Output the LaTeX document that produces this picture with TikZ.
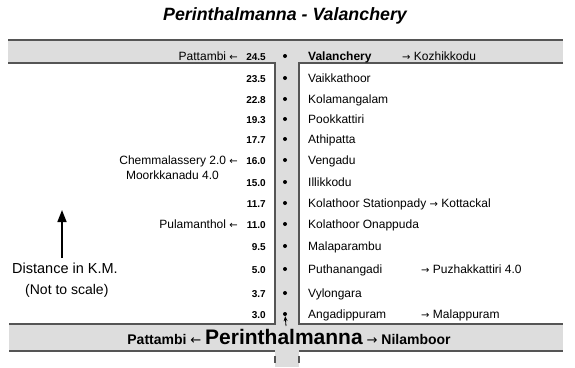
\documentclass[tikz,border=0pt]{standalone}
\usepackage{fontspec}
\setmainfont{Liberation Sans}
\newfontfamily\arrowfont{DejaVu Sans}
\usetikzlibrary{arrows.meta}
\definecolor{roadgray}{RGB}{221,221,221}
\definecolor{roadline}{RGB}{85,85,85}
\newcommand{\rar}[1][10]{{\arrowfont\mdseries\fontsize{#1}{#1}\selectfont →}}
\newcommand{\lar}[1][10]{{\arrowfont\mdseries\fontsize{#1}{#1}\selectfont ←}}
\tikzset{
  km/.style={anchor=base east, inner sep=0pt, font=\fontsize{10}{12}\selectfont\bfseries},
  stoptext/.style={anchor=base west, inner sep=0pt, font=\fontsize{12}{14}\selectfont},
  sidetext/.style={anchor=base east, inner sep=0pt, font=\fontsize{12}{14}\selectfont},
  halt/.style={circle, fill, inner sep=0pt, minimum size=4pt},
  kerb/.style={roadline, line width=1.4pt},
}
\begin{document}
\begin{tikzpicture}[x=1pt, y=-1pt]
        \useasboundingbox (0,0) rectangle (575,367);

        % --- Title ---
        \node[anchor=base, inner sep=0pt, font=\fontsize{17.8}{20}\selectfont\bfseries\itshape] (title) at (285,20) {Perinthalmanna - Valanchery};
        % ---

        % --- Draw road cross ---
        \fill[roadgray] (8,40) rectangle (563,63);
        \fill[roadgray] (9,324) rectangle (563,351);
        \fill[roadgray] (275,40) rectangle (299,367);
        \draw[kerb] (8,40) -- (563,40);
        \draw[kerb] (8,63) -- (275,63) -- (275,324) -- (9,324);
        \draw[kerb] (563,63) -- (299,63) -- (299,324) -- (563,324);
        \draw[kerb] (9,351) -- (275,351) (299,351) -- (563,351);
        \draw[kerb] (275,356) -- (275,363) (299,356) -- (299,363);
        % ---

        % --- Stops: distance, halt, name ---
        \node[km] (k1) at (266,60) {24.5};  \node[halt] (d1) at (285,56) {};  \node[stoptext, font=\fontsize{12}{14}\selectfont\bfseries] (s1) at (308,60) {Valanchery};
        \node[km] (k2) at (266,82) {23.5};  \node[halt] (d2) at (285,78) {};  \node[stoptext] (s2) at (308,82) {Vaikkathoor};
        \node[km] (k3) at (266,103) {22.8}; \node[halt] (d3) at (285,99) {};  \node[stoptext] (s3) at (308,103) {Kolamangalam};
        \node[km] (k4) at (266,123) {19.3}; \node[halt] (d4) at (285,119) {}; \node[stoptext] (s4) at (308,123) {Pookkattiri};
        \node[km] (k5) at (266,143) {17.7}; \node[halt] (d5) at (285,139) {}; \node[stoptext] (s5) at (308,143) {Athipatta};
        \node[km] (k6) at (266,164) {16.0}; \node[halt] (d6) at (285,160) {}; \node[stoptext] (s6) at (308,164) {Vengadu};
        \node[km] (k7) at (266,186) {15.0}; \node[halt] (d7) at (285,182) {}; \node[stoptext] (s7) at (308,186) {Illikkodu};
        \node[km] (k8) at (266,207) {11.7}; \node[halt] (d8) at (285,203) {}; \node[stoptext] (s8) at (308,207) {Kolathoor Stationpady \rar{} Kottackal};
        \node[km] (k9) at (266,228) {11.0}; \node[halt] (d9) at (285,224) {}; \node[stoptext] (s9) at (308,228) {Kolathoor Onappuda};
        \node[km] (k10) at (266,250) {9.5}; \node[halt] (d10) at (285,246) {}; \node[stoptext] (s10) at (308,250) {Malaparambu};
        \node[km] (k11) at (266,273) {5.0}; \node[halt] (d11) at (285,269) {}; \node[stoptext] (s11) at (308,273) {Puthanangadi};
        \node[km] (k12) at (266,297) {3.7}; \node[halt] (d12) at (285,293) {}; \node[stoptext] (s12) at (308,297) {Vylongara};
        \node[km] (k13) at (266,318) {3.0}; \node[halt] (d13) at (285,314) {}; \node[stoptext] (s13) at (308,318) {Angadippuram};
        % ---

        % --- Branch roads ---
        \node[sidetext] (b1) at (238,60) {Pattambi \lar};
        \node[stoptext] (b2) at (402,60) {\rar{} Kozhikkodu};
        \node[sidetext] (b3) at (238,164) {Chemmalassery 2.0 \lar};
        \node[sidetext] (b4) at (219,179) {Moorkkanadu 4.0};
        \node[sidetext] (b5) at (238,228) {Pulamanthol \lar};
        \node[stoptext] (b6) at (421,273) {\rar{} Puzhakkattiri 4.0};
        \node[stoptext] (b7) at (421,318) {\rar{} Malappuram};
        % ---

        % --- Distance arrow ---
        \coordinate (kmfoot) at (62,258);
        \coordinate (kmtip) at (62,210);
        \draw[-{Triangle[width=9pt,length=12pt]}, line width=1.6pt] (kmfoot) -- (kmtip);
        \node[anchor=base west, inner sep=0pt, font=\fontsize{14.5}{16}\selectfont] (dist) at (12,273) {Distance in K.M.};
        \node[anchor=base west, inner sep=0pt, font=\fontsize{14}{16}\selectfont] (scale) at (25,294) {(Not to scale)};
        % ---

        % --- Main road ---
        \node[anchor=base, inner sep=0pt, font=\fontsize{14}{16}\selectfont\bfseries] (main) at (289,344) {Pattambi \lar[13] {\fontsize{21}{23}\selectfont Perinthalmanna} \rar[13] Nilamboor};
        \coordinate (pmark) at (286,326);
        \draw[-{Stealth[length=5pt,width=4pt]}, line width=0.8pt] (pmark) -- (d13);
        % ---
\end{tikzpicture}
\end{document}
